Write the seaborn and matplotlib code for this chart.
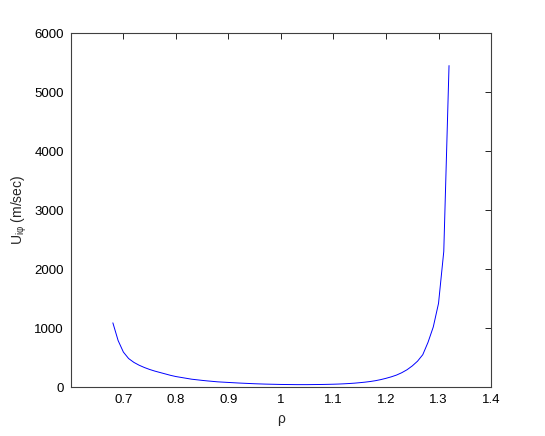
import numpy as np
import pandas as pd
import seaborn as sns
import matplotlib
matplotlib.use('Agg')
import matplotlib.pyplot as plt

# radius values (rho) and velocity U_iphi (m/sec)
rho = [0.68, 0.69, 0.70, 0.71, 0.72, 0.73, 0.74, 0.75, 0.76, 0.77,
       0.78, 0.79, 0.80, 0.81, 0.82, 0.83, 0.84, 0.85, 0.86, 0.87,
       0.88, 0.89, 0.90, 0.91, 0.92, 0.93, 0.94, 0.95, 0.96, 0.97,
       0.98, 0.99, 1.00, 1.01, 1.02, 1.03, 1.04, 1.05, 1.06, 1.07,
       1.08, 1.09, 1.10, 1.11, 1.12, 1.13, 1.14, 1.15, 1.16, 1.17,
       1.18, 1.19, 1.20, 1.21, 1.22, 1.23, 1.24, 1.25, 1.26, 1.27,
       1.28, 1.29, 1.30, 1.31, 1.32]
u_iphi = [1090, 790, 595, 485, 420, 372, 333, 300, 272, 248,
          224, 200, 180, 165, 150, 135, 125, 115, 106, 98,
          90, 85, 80, 75, 70, 66, 62, 58, 55, 52,
          50, 48, 46, 45, 44, 43, 43, 43, 44, 45,
          46, 48, 50, 53, 57, 62, 68, 76, 85, 96,
          110, 128, 150, 175, 205, 245, 295, 360, 440, 550,
          760, 1020, 1420, 2300, 5450]

xticks = [0.7, 0.8, 0.9, 1.0, 1.1, 1.2, 1.3, 1.4]
xticklabels = ['0.7', '0.8', '0.9', '1', '1.1', '1.2', '1.3', '1.4']
yticks = [0, 1000, 2000, 3000, 4000, 5000, 6000]

df = pd.DataFrame({'rho': rho, 'U': u_iphi})

sns.set_style('white')
plt.rcParams['font.family'] = ['Liberation Sans', 'DejaVu Sans']
plt.rcParams['mathtext.fontset'] = 'custom'
plt.rcParams['mathtext.rm'] = 'Liberation Sans'
plt.rcParams['mathtext.it'] = 'Liberation Sans'

fig = plt.figure(figsize=(5.45, 4.36), dpi=100)
ax = fig.add_axes([0.130, 0.112, 0.771, 0.812])

sns.lineplot(data=df, x='rho', y='U', color='#0000ff', linewidth=0.7, sort=False, ax=ax)

ax.set_xlim(0.6, 1.4)
ax.set_ylim(0, 6000)
ax.set_xticks(xticks)
ax.set_xticklabels(xticklabels)
ax.set_yticks(yticks)
ax.tick_params(direction='in', length=4, width=0.6, top=True, right=True,
               labelsize=9.5, colors='black', pad=5)
for s in ax.spines.values():
    s.set_color('#404040')
    s.set_linewidth(0.8)

ax.set_xlabel('ρ', fontsize=10)
ax.set_ylabel(r'U$_{\mathrm{i}\varphi}$ (m/sec)', fontsize=10)

fig.savefig('out.png', dpi=100)
